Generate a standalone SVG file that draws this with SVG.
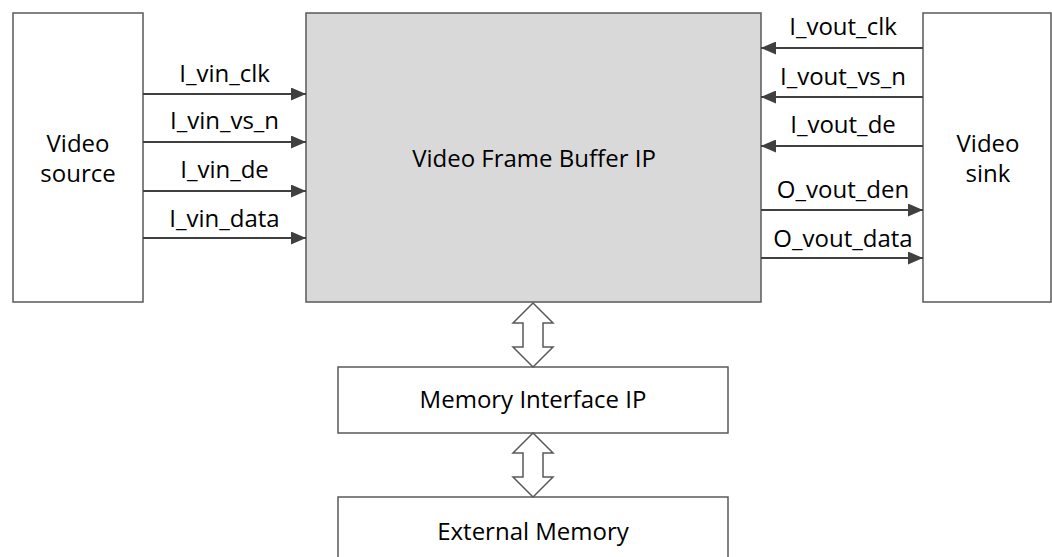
<svg xmlns="http://www.w3.org/2000/svg" width="1052" height="557" viewBox="0 0 1052 557">
<style>
.box{fill:#ffffff;stroke:#595959;stroke-width:1.5}
.main{fill:#d9d9d9;stroke:#595959;stroke-width:1.5}
.t{font-family:"Open Sans","Noto Sans","DejaVu Sans",sans-serif;font-size:24px;fill:#000000;text-anchor:middle}
.w{stroke:#404040;stroke-width:2;fill:none}
.dbl{fill:#ffffff;stroke:#595959;stroke-width:1.5;stroke-linejoin:miter}
</style>
<defs>
<marker id="ah" markerWidth="15" markerHeight="13" refX="15" refY="6.5" orient="auto" markerUnits="userSpaceOnUse">
<path d="M0,0 L15,6.5 L0,13 Z" fill="#404040"/>
</marker>
</defs>
<rect width="1052" height="557" fill="#ffffff"/>
<g id="video-source">
<rect class="box" x="13" y="13" width="130" height="289"/>
<text class="t" x="78" y="152">Video</text>
<text class="t" x="78" y="182">source</text>
</g>
<g id="frame-buffer">
<rect class="main" x="306" y="13" width="455" height="289"/>
<text class="t" x="534" y="167">Video Frame Buffer IP</text>
</g>
<g id="video-sink">
<rect class="box" x="923" y="13" width="128" height="289"/>
<text class="t" x="988" y="152">Video</text>
<text class="t" x="988" y="182">sink</text>
</g>
<g id="memory-interface">
<rect class="box" x="338" y="367" width="390" height="66"/>
<text class="t" x="533" y="408">Memory Interface IP</text>
</g>
<g id="external-memory">
<rect class="box" x="338" y="497" width="390" height="70"/>
<text class="t" x="533" y="540">External Memory</text>
</g>
<g id="connectors">
<line class="w" x1="143" y1="94" x2="306" y2="94" marker-end="url(#ah)"/>
<line class="w" x1="143" y1="142" x2="306" y2="142" marker-end="url(#ah)"/>
<line class="w" x1="143" y1="191" x2="306" y2="191" marker-end="url(#ah)"/>
<line class="w" x1="143" y1="238" x2="306" y2="238" marker-end="url(#ah)"/>
<line class="w" x1="923" y1="48" x2="761" y2="48" marker-end="url(#ah)"/>
<line class="w" x1="923" y1="97" x2="761" y2="97" marker-end="url(#ah)"/>
<line class="w" x1="923" y1="146" x2="761" y2="146" marker-end="url(#ah)"/>
<line class="w" x1="761" y1="210" x2="923" y2="210" marker-end="url(#ah)"/>
<line class="w" x1="761" y1="258" x2="923" y2="258" marker-end="url(#ah)"/>
<path class="dbl" d="M533,303 L553,323 L543,323 L543,347 L553,347 L533,367 L513,347 L523,347 L523,323 L513,323 Z"/>
<path class="dbl" d="M533,433 L553,453 L543,453 L543,477 L553,477 L533,497 L513,477 L523,477 L523,453 L513,453 Z"/>
<text class="t" x="224.5" y="82">I_vin_clk</text>
<text class="t" x="224.5" y="129">I_vin_vs_n</text>
<text class="t" x="224.5" y="178">I_vin_de</text>
<text class="t" x="224.5" y="227">I_vin_data</text>
<text class="t" x="843" y="35">I_vout_clk</text>
<text class="t" x="843" y="85">I_vout_vs_n</text>
<text class="t" x="843" y="133">I_vout_de</text>
<text class="t" x="843" y="198">O_vout_den</text>
<text class="t" x="843" y="247">O_vout_data</text>
</g>
</svg>
